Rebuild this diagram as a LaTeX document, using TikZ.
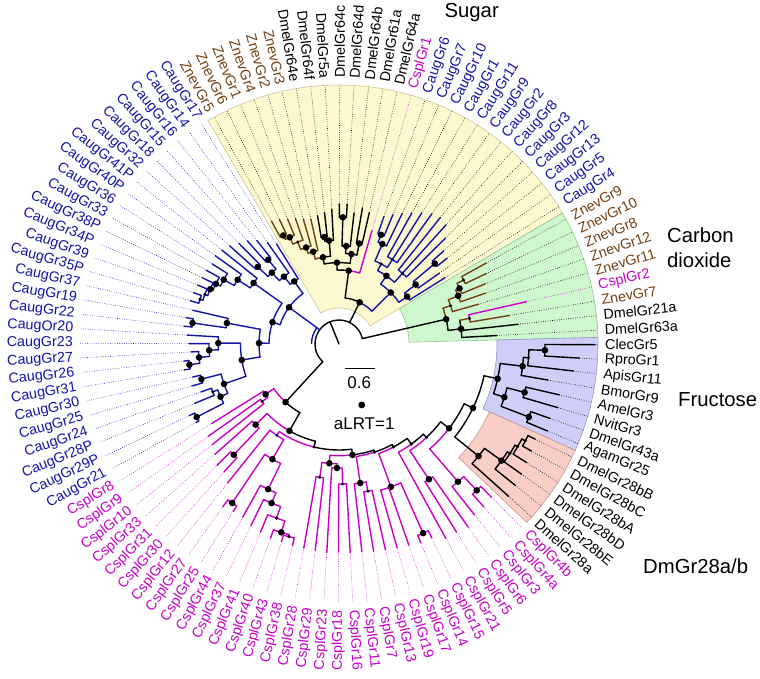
\documentclass[tikz,border=0pt]{standalone}
\usepackage{fontspec}
\setmainfont{Liberation Sans}
\definecolor{cb}{RGB}{20,20,170}
\definecolor{cp}{RGB}{200,0,200}
\definecolor{cz}{RGB}{115,65,20}
\definecolor{fy}{RGB}{252,249,208}
\definecolor{fg}{RGB}{206,247,206}
\definecolor{fb}{RGB}{206,206,248}
\definecolor{fr}{RGB}{248,206,198}
\definecolor{sy}{RGB}{205,195,150}
\definecolor{sg}{RGB}{150,200,150}
\definecolor{sbb}{RGB}{150,150,200}
\definecolor{sr}{RGB}{205,150,140}
\newcommand\angI[1]{(122+3.2143*(#1))}
\newcommand\brE[4]{\draw[br,#1] ({\angI{#2}}:#3pt) -- ({\angI{#2}}:#4pt);}
\newcommand\brA[4]{\draw[br,#1] ({\angI{#2}}:#4pt) arc[start angle={\angI{#2}},end angle={\angI{#3}},radius=#4pt];}
\newcommand\lfL[5]{\draw[br,#1] ({\angI{#3}}:#4pt) -- ({\angI{#3}}:#5pt); \draw[dt,#2] ({\angI{#3}}:#5pt) -- ({\angI{#3}}:259pt);}
\newcommand\dtB[2]{\fill ({\angI{#1}}:#2pt) circle[radius=3.3pt];}
\newcommand\dtS[2]{\fill ({\angI{#1}}:#2pt) circle[radius=1.7pt];}
\newcommand\secS[6]{\filldraw[fill=#1,draw=#2,line width=0.6pt] ({\angI{#3}}:#5pt) -- ({\angI{#3}}:#6pt) arc[start angle={\angI{#3}},end angle={\angI{#4}},radius=#6pt] -- ({\angI{#4}}:#5pt) arc[start angle={\angI{#4}},end angle={\angI{#3}},radius=#5pt] -- cycle;}
\newcommand\lbL[3]{%
  \pgfmathsetmacro\myA{mod(122+3.2143*(#1),360)}%
  \ifdim\myA pt<90pt\relax
    \node[lab,text=#3,rotate=\myA,anchor=west] (t#1) at (\myA:266pt) {#2};%
  \else\ifdim\myA pt>270pt\relax
    \node[lab,text=#3,rotate=\myA,anchor=west] (t#1) at (\myA:266pt) {#2};%
  \else
    \pgfmathsetmacro\myB{\myA-180}%
    \node[lab,text=#3,rotate=\myB,anchor=east] (t#1) at (\myA:266pt) {#2};%
  \fi\fi}
\begin{document}
\begin{tikzpicture}[x=1pt,y=1pt,
  br/.style={line width=1.4pt,line cap=round},
  dt/.style={line width=0.6pt,dash pattern=on 0.6pt off 1.7pt},
  lab/.style={inner sep=0pt,font=\fontsize{14.3}{16}\selectfont},
  cat/.style={inner sep=0pt,font=\fontsize{20.3}{25}\selectfont},
  leg/.style={inner sep=0pt,font=\fontsize{17}{19}\selectfont}]
\useasboundingbox (-339,-334) rectangle (421,344);
% background sectors
\secS{fy}{sy}{83.5}{111.5}{36}{259}
\secS{fg}{sg}{74.5}{83.5}{70}{259}
\secS{fb}{sbb}{66.5}{74.5}{158}{259}
\secS{fr}{sr}{60.5}{66.5}{165}{259}
% root
\brE{black}{108.9}{0}{24}
\brA{black}{78.1}{144.8}{24}
\brA{cb}{118.75}{129.6}{27.5}
\brE{black}{78.1}{24}{110}
\brE{black}{93.85}{24}{46.5}
\brE{cb}{6.75}{24}{62}
\brE{black}{32.8}{24}{79}
% Caug left clade
\brA{cb}{1.1}{12.4}{62} \dtB{6.75}{62}
\brE{cb}{1.1}{62}{77} \brA{cb}{0}{2.25}{77} \dtB{1.1}{77}
\lfL{cb}{cb}{0}{77}{118}
\brE{cb}{2.25}{77}{87} \brA{cb}{1}{3.5}{87} \dtB{2.25}{87}
\lfL{cb}{cb}{1}{87}{124}
\brE{cb}{3.5}{87}{98} \brA{cb}{2.5}{4.5}{98} \dtB{3.5}{98}
\brE{cb}{2.5}{98}{110} \brA{cb}{2}{3}{110} \dtB{2.5}{110}
\lfL{cb}{cb}{2}{110}{132} \lfL{cb}{cb}{3}{110}{138}
\brE{cb}{4.5}{98}{112} \brA{cb}{4}{5}{112} \dtB{4.5}{112}
\lfL{cb}{cb}{4}{112}{142} \lfL{cb}{cb}{5}{112}{147}
\brE{cb}{12.4}{62}{70} \brA{cb}{6.99}{17.85}{70} \dtB{12.4}{70}
\brE{cb}{6.99}{70}{105} \brA{cb}{6}{7.98}{105} \dtB{6.99}{105}
\lfL{cb}{cb}{6}{105}{150}
\brE{cb}{7.98}{105}{120} \brA{cb}{7}{8.97}{120} \dtB{7.98}{120}
\lfL{cb}{cb}{7}{120}{152}
\brE{cb}{8.97}{120}{132} \brA{cb}{8}{9.94}{132} \dtB{8.97}{132}
\lfL{cb}{cb}{8}{132}{150}
\brE{cb}{9.94}{132}{137} \brA{cb}{9}{10.875}{137} \dtB{9.94}{137}
\lfL{cb}{cb}{9}{137}{152}
\brE{cb}{10.875}{137}{140} \brA{cb}{10}{11.75}{140} \dtB{10.875}{140}
\lfL{cb}{cb}{10}{140}{152}
\brE{cb}{11.75}{140}{143} \brA{cb}{11}{12.5}{143} \dtS{11.75}{143}
\lfL{cb}{cb}{11}{143}{153}
\brE{cb}{12.5}{143}{146} \brA{cb}{12}{13}{146} \dtS{12.5}{146}
\lfL{cb}{cb}{12}{146}{154} \lfL{cb}{cb}{13}{146}{155}
\brE{cb}{17.85}{70}{80} \brA{cb}{14.75}{20.95}{80} \dtB{17.85}{80}
\brE{cb}{14.75}{80}{114} \brA{cb}{14}{15.5}{114} \dtB{14.75}{114}
\lfL{cb}{cb}{14}{114}{150}
\brE{cb}{15.5}{114}{148} \brA{cb}{15}{16}{148} \dtB{15.5}{148}
\lfL{cb}{cb}{15}{148}{155} \lfL{cb}{cb}{16}{148}{156}
\brE{cb}{20.95}{80}{98.5} \brA{cb}{17.9}{24}{98.5} \dtB{20.95}{98.5}
\brE{cb}{17.9}{98.5}{120.7} \brA{cb}{17}{18.9}{120.7} \dtB{17.9}{120.7}
\lfL{cb}{cb}{17}{120.7}{152}
\brE{cb}{18.9}{120.7}{130} \brA{cb}{18}{19.75}{130} \dtB{18.9}{130}
\lfL{cb}{cb}{18}{130}{150}
\brE{cb}{19.75}{130}{140.6} \brA{cb}{19}{20.5}{140.6} \dtB{19.75}{140.6}
\lfL{cb}{cb}{19}{140.6}{148}
\brE{cb}{20.5}{140.6}{151} \brA{cb}{20}{21}{151} \dtB{20.5}{151}
\lfL{cb}{cb}{20}{151}{156} \lfL{cb}{cb}{21}{151}{157}
\brE{cb}{24}{98.5}{121.7} \brA{cb}{22.5}{25.5}{121.7} \dtB{24}{121.7}
\brE{cb}{22.5}{121.7}{142} \brA{cb}{22}{23}{142} \dtB{22.5}{142}
\lfL{cb}{cb}{22}{142}{150} \lfL{cb}{cb}{23}{142}{153}
\brE{cb}{25.5}{121.7}{129.7} \brA{cb}{24.5}{26.5}{129.7} \dtB{25.5}{129.7}
\brE{cb}{24.5}{129.7}{135} \brA{cb}{24}{25}{135} \dtS{24.5}{135}
\lfL{cb}{cb}{24}{135}{146} \lfL{cb}{cb}{25}{135}{156}
\brE{cb}{26.5}{129.7}{160} \brA{cb}{26}{27}{160} \dtB{26.5}{160}
\lfL{cb}{cb}{26}{160}{166} \lfL{cb}{cb}{27}{160}{163}
% bottom ladder with Cspl
\brA{cp}{28.75}{32.8}{79} \brA{black}{32.8}{36.8}{79} \dtB{32.8}{79}
\brE{cp}{28.75}{79}{89} \brA{cp}{28}{29.5}{89} \dtB{28.75}{89}
\lfL{cp}{cp}{28}{89}{150}
\brE{cp}{29.5}{89}{96} \brA{cp}{29}{30}{96} \dtS{29.5}{96}
\lfL{cp}{cp}{29}{96}{160} \lfL{cp}{cp}{30}{96}{162}
\brE{black}{36.8}{79}{100} \brA{cp}{31.75}{36.8}{100} \brA{black}{36.8}{41.8}{100} \dtB{36.8}{100}
\brE{cp}{31.75}{100}{116} \brA{cp}{31}{32.5}{116} \dtB{31.75}{116}
\lfL{cp}{cp}{31}{116}{166}
\brE{cp}{32.5}{116}{152.8} \brA{cp}{32}{33}{152.8} \dtB{32.5}{152.8}
\lfL{cp}{cp}{32}{152.8}{172} \lfL{cp}{cp}{33}{152.8}{172}
\brE{black}{41.8}{100}{106} \brA{cp}{35.4}{41.8}{106} \brA{black}{41.8}{48.2}{106} \dtS{41.8}{106}
\brE{cp}{35.4}{106}{110.5} \brA{cp}{34}{36.7}{110.5} \dtS{35.4}{110.5}
\lfL{cp}{cp}{34}{110.5}{178}
\brE{cp}{36.7}{110.5}{133} \brA{cp}{35.5}{37.95}{133} \dtB{36.7}{133}
\brE{cp}{35.5}{133}{191.5} \brA{cp}{35}{36}{191.5} \dtB{35.5}{191.5}
\lfL{cp}{cp}{35}{191.5}{200} \lfL{cp}{cp}{36}{191.5}{198}
\brE{cp}{37.95}{133}{161.6} \brA{cp}{37}{38.9}{161.6} \dtB{37.95}{161.6}
\lfL{cp}{cp}{37}{161.6}{198}
\brE{cp}{38.9}{161.6}{172.8} \brA{cp}{38}{39.9}{172.8} \dtB{38.9}{172.8}
\lfL{cp}{cp}{38}{172.8}{202}
\brE{cp}{39.9}{172.8}{185} \brA{cp}{39}{40.75}{185} \dtS{39.9}{185}
\lfL{cp}{cp}{39}{185}{204}
\brE{cp}{40.75}{185}{197} \brA{cp}{40}{41.5}{197} \dtB{40.75}{197}
\lfL{cp}{cp}{40}{197}{206}
\brE{cp}{41.5}{197}{199} \brA{cp}{41}{42}{199} \dtS{41.5}{199}
\lfL{cp}{cp}{41}{199}{206} \lfL{cp}{cp}{42}{199}{207}
\brE{black}{48.2}{106}{111.7} \brA{cp}{44.6}{48.2}{111.7} \brA{black}{48.2}{51.7}{111.7} \dtB{48.2}{111.7}
\brE{cp}{44.6}{111.7}{119.7} \brA{cp}{43.5}{45.75}{119.7} \dtB{44.6}{119.7}
\brE{cp}{43.5}{119.7}{134.7} \brA{cp}{43}{44}{134.7} \dtS{43.5}{134.7}
\lfL{cp}{cp}{43}{134.7}{207} \lfL{cp}{cp}{44}{134.7}{208}
\brE{cp}{45.75}{119.7}{124} \brA{cp}{45}{46.5}{124} \dtB{45.75}{124}
\lfL{cp}{cp}{45}{124}{209}
\brE{cp}{46.5}{124}{140} \brA{cp}{46}{47}{140} \dtS{46.5}{140}
\lfL{cp}{cp}{46}{140}{208} \lfL{cp}{cp}{47}{140}{209}
\brE{black}{51.7}{111.7}{113.8} \brA{cp}{48.75}{51.7}{113.8} \brA{black}{51.7}{54.7}{113.8} \dtS{51.7}{113.8}
\brE{cp}{48.75}{113.8}{140.6} \brA{cp}{48}{49.5}{140.6} \dtB{48.75}{140.6}
\lfL{cp}{cp}{48}{140.6}{209}
\brE{cp}{49.5}{140.6}{150} \brA{cp}{49}{50}{150} \dtS{49.5}{150}
\lfL{cp}{cp}{49}{150}{210} \lfL{cp}{cp}{50}{150}{211}
\brE{black}{54.7}{113.8}{116.5} \brA{cp}{52.25}{54.7}{116.5} \brA{black}{54.7}{57.2}{116.5} \dtS{54.7}{116.5}
\brE{cp}{52.25}{116.5}{152} \brA{cp}{51}{53.5}{152} \dtB{52.25}{152}
\lfL{cp}{cp}{51}{152}{212} \lfL{cp}{cp}{52}{152}{213}
\brE{cp}{53.5}{152}{207} \brA{cp}{53}{54}{207} \dtB{53.5}{207}
\lfL{cp}{cp}{53}{207}{215} \lfL{cp}{cp}{54}{207}{215}
\brE{black}{57.2}{116.5}{123.5} \brA{cp}{55}{57.2}{123.5} \brA{black}{57.2}{59.45}{123.5} \dtS{57.2}{123.5}
\lfL{cp}{cp}{55}{123.5}{222}
\brE{black}{59.45}{123.5}{128} \brA{cp}{56.5}{59.45}{128} \brA{black}{59.45}{62.4}{128} \dtS{59.45}{128}
\brE{cp}{56.5}{128}{162.4} \brA{cp}{56}{57}{162.4} \dtB{56.5}{162.4}
\lfL{cp}{cp}{56}{162.4}{222} \lfL{cp}{cp}{57}{162.4}{224}
\brE{black}{62.4}{128}{138.7} \brA{cp}{58.75}{62.4}{138.7} \brA{black}{62.4}{66.1}{138.7} \dtB{62.4}{138.7}
\brE{cp}{58.75}{138.7}{182} \brA{cp}{58}{59.5}{182} \dtB{58.75}{182}
\lfL{cp}{cp}{58}{182}{218}
\brE{cp}{59.5}{182}{201} \brA{cp}{59}{60}{201} \dtB{59.5}{201}
\lfL{cp}{cp}{59}{201}{218} \lfL{cp}{cp}{60}{201}{216}
\brE{black}{66.1}{138.7}{148.5} \brA{black}{61.98}{70.2}{148.5} \dtB{66.1}{148.5}
% DmGr28 clade
\brE{black}{61.98}{148.5}{179} \brA{black}{61}{62.95}{179} \dtB{61.98}{179}
\lfL{black}{black}{61}{179}{228}
\brE{black}{62.95}{179}{200} \brA{black}{62}{63.9}{200} \dtB{62.95}{200}
\lfL{black}{black}{62}{200}{226}
\brE{black}{63.9}{200}{203} \brA{black}{63}{64.75}{203} \dtS{63.9}{203}
\lfL{black}{black}{63}{203}{224}
\brE{black}{64.75}{203}{206} \brA{black}{64}{65.5}{206} \dtS{64.75}{206}
\lfL{black}{black}{64}{206}{222}
\brE{black}{65.5}{206}{210} \brA{black}{65}{66}{210} \dtS{65.5}{210}
\lfL{black}{black}{65}{210}{220} \lfL{black}{black}{66}{210}{218}
% Fructose clade
\brE{black}{70.2}{148.5}{162.4} \brA{black}{68.5}{71.9}{162.4} \dtB{70.2}{162.4}
\brE{black}{68.5}{162.4}{173.7} \brA{black}{67.5}{69.5}{173.7} \dtB{68.5}{173.7}
\brE{black}{67.5}{173.7}{203.4} \brA{black}{67}{68}{203.4} \dtB{67.5}{203.4}
\lfL{black}{black}{67}{203.4}{226} \lfL{black}{black}{68}{203.4}{224}
\brE{black}{69.5}{173.7}{191.8} \brA{black}{69}{70}{191.8} \dtB{69.5}{191.8}
\lfL{black}{black}{69}{191.8}{228} \lfL{black}{black}{70}{191.8}{226}
\brE{black}{71.9}{162.4}{184.9} \brA{black}{71}{72.75}{184.9} \dtB{71.9}{184.9}
\lfL{black}{black}{71}{184.9}{212}
\brE{black}{72.75}{184.9}{190} \brA{black}{72}{73.5}{190} \dtS{72.75}{190}
\lfL{black}{black}{72}{190}{236}
\brE{black}{73.5}{190}{206} \brA{black}{73}{74}{206} \dtB{73.5}{206}
\lfL{black}{black}{73}{206}{241} \lfL{black}{black}{74}{206}{256}
% CO2 clade
\brA{black}{76.25}{78.1}{110} \brA{cz}{78.1}{79.95}{110} \dtB{78.1}{110}
\brE{black}{76.25}{110}{123} \brA{black}{75}{77.5}{123} \dtB{76.25}{123}
\lfL{black}{black}{75}{123}{158} \lfL{black}{black}{76}{123}{180}
\brE{cz}{77.5}{123}{133} \brA{cz}{77}{77.5}{133} \brA{cp}{77.5}{78}{133} \dtS{77.5}{133}
\lfL{cz}{black}{77}{133}{173} \lfL{cp}{cp}{78}{133}{192}
\brE{cz}{79.95}{110}{118} \brA{cz}{79}{80.9}{118} \dtS{79.95}{118}
\lfL{cz}{black}{79}{118}{145}
\brE{cz}{80.9}{118}{128.6} \brA{cz}{80}{81.75}{128.6} \dtB{80.9}{128.6}
\lfL{cz}{black}{80}{128.6}{155}
\brE{cz}{81.75}{128.6}{132.7} \brA{cz}{81}{82.5}{132.7} \dtB{81.75}{132.7}
\lfL{cz}{black}{81}{132.7}{158}
\brE{cz}{82.5}{132.7}{140} \brA{cz}{82}{83}{140} \dtS{82.5}{140}
\lfL{cz}{black}{82}{140}{163} \lfL{cz}{black}{83}{140}{168}
% Sugar clade
\brA{cb}{88}{93.85}{46.5} \brA{black}{93.85}{99.7}{46.5} \dtB{93.85}{46.5}
\brE{cb}{88}{46.5}{73} \brA{cb}{84.9}{91.2}{73} \dtB{88}{73}
\brE{cb}{84.9}{73}{83} \brA{cb}{84}{85.8}{83} \dtB{84.9}{83}
\lfL{cb}{black}{84}{83}{125}
\brE{cb}{85.8}{83}{97} \brA{cb}{85}{86.5}{97} \dtB{85.8}{97}
\lfL{cb}{black}{85}{97}{123}
\brE{cb}{86.5}{97}{125} \brA{cb}{86}{87}{125} \dtB{86.5}{125}
\lfL{cb}{black}{86}{125}{138} \lfL{cb}{black}{87}{125}{140}
\brE{cb}{91.2}{73}{83} \brA{cb}{89}{93.4}{83} \dtB{91.2}{83}
\brE{cb}{89}{83}{95} \brA{cb}{88}{90}{95} \dtS{89}{95}
\lfL{cb}{black}{88}{95}{150} \lfL{cb}{black}{89}{95}{160} \lfL{cb}{black}{90}{95}{162}
\brE{cb}{93.4}{83}{90.5} \brA{cb}{92}{94.75}{90.5} \dtS{93.4}{90.5}
\brE{cb}{92}{90.5}{100} \brA{cb}{91}{93}{100} \dtS{92}{100}
\lfL{cb}{black}{91}{100}{160} \lfL{cb}{black}{92}{100}{155} \lfL{cb}{black}{93}{100}{150}
\brE{cb}{94.75}{90.5}{109} \brA{cb}{94}{95.5}{109} \dtB{94.75}{109}
\lfL{cb}{black}{94}{109}{145}
\brE{cb}{95.5}{109}{117} \brA{cb}{95}{96}{117} \dtB{95.5}{117}
\lfL{cb}{black}{95}{117}{140} \lfL{cb}{black}{96}{117}{135}
\brE{black}{99.7}{46.5}{74} \brA{cp}{97}{99.7}{74} \brA{black}{99.7}{102.5}{74} \dtB{99.7}{74}
\lfL{cp}{cp}{97}{74}{118}
\brE{black}{102.5}{74}{81.4} \brA{black}{99.6}{105.3}{81.4} \dtB{102.5}{81.4}
\brE{black}{99.6}{81.4}{90.8} \brA{black}{98.5}{100.75}{90.8} \dtB{99.6}{90.8}
\brE{black}{98.5}{90.8}{102.5} \brA{black}{98}{99}{102.5} \dtB{98.5}{102.5}
\lfL{black}{black}{98}{102.5}{135} \lfL{black}{black}{99}{102.5}{138}
\brE{black}{100.75}{90.8}{98.2} \brA{black}{100}{101.5}{98.2} \dtB{100.75}{98.2}
\lfL{black}{black}{100}{98.2}{132}
\brE{black}{101.5}{98.2}{126.7} \brA{black}{101}{102}{126.7} \dtB{101.5}{126.7}
\lfL{black}{black}{101}{126.7}{140} \lfL{black}{black}{102}{126.7}{140}
\brE{black}{105.3}{81.4}{88.2} \brA{black}{103.75}{105.3}{88.2} \brA{cz}{105.3}{106.9}{88.2} \dtB{105.3}{88.2}
\brE{black}{103.75}{88.2}{103.9} \brA{black}{103}{104.5}{103.9} \dtB{103.75}{103.9}
\lfL{black}{black}{103}{103.9}{135}
\brE{black}{104.5}{103.9}{108} \brA{black}{104}{105}{108} \dtB{104.5}{108}
\lfL{black}{black}{104}{108}{132} \lfL{black}{black}{105}{108}{130}
\brE{cz}{106.9}{88.2}{95.8} \brA{cz}{106}{107.9}{95.8} \dtB{106.9}{95.8}
\lfL{cz}{black}{106}{95.8}{128}
\brE{cz}{107.9}{95.8}{102} \brA{cz}{107}{108.9}{102} \dtB{107.9}{102}
\lfL{cz}{black}{107}{102}{130}
\brE{cz}{108.9}{102}{110} \brA{cz}{108}{109.75}{110} \dtS{108.9}{110}
\lfL{cz}{black}{108}{110}{133}
\brE{cz}{109.75}{110}{117.6} \brA{cz}{109}{110.5}{117.6} \dtB{109.75}{117.6}
\lfL{cz}{black}{109}{117.6}{135}
\brE{cz}{110.5}{117.6}{122} \brA{cz}{110}{111}{122} \dtB{110.5}{122}
\lfL{cz}{black}{110}{122}{138} \lfL{cz}{black}{111}{122}{140}
% leaf labels
\lbL{0}{CaugGr17}{cb}\lbL{1}{CaugGr14}{cb}\lbL{2}{CaugGr16}{cb}\lbL{3}{CaugGr15}{cb}
\lbL{4}{CaugGr18}{cb}\lbL{5}{CaugGr32}{cb}\lbL{6}{CaugGr41P}{cb}\lbL{7}{CaugGr40P}{cb}
\lbL{8}{CaugGr36}{cb}\lbL{9}{CaugGr33}{cb}\lbL{10}{CaugGr38P}{cb}\lbL{11}{CaugGr34P}{cb}
\lbL{12}{CaugGr39}{cb}\lbL{13}{CaugGr35P}{cb}\lbL{14}{CaugGr37}{cb}\lbL{15}{CaugGr19}{cb}
\lbL{16}{CaugGr22}{cb}\lbL{17}{CaugOr20}{cb}\lbL{18}{CaugGr23}{cb}\lbL{19}{CaugGr27}{cb}
\lbL{20}{CaugGr26}{cb}\lbL{21}{CaugGr31}{cb}\lbL{22}{CaugGr30}{cb}\lbL{23}{CaugGr25}{cb}
\lbL{24}{CaugGr24}{cb}\lbL{25}{CaugGr28P}{cb}\lbL{26}{CaugGr29P}{cb}\lbL{27}{CaugGr21}{cb}
\lbL{28}{CsplGr8}{cp}\lbL{29}{CsplGr9}{cp}\lbL{30}{CsplGr10}{cp}\lbL{31}{CsplGr33}{cp}
\lbL{32}{CsplGr31}{cp}\lbL{33}{CsplGr30}{cp}\lbL{34}{CsplGr12}{cp}\lbL{35}{CsplGr27}{cp}
\lbL{36}{CsplGr25}{cp}\lbL{37}{CsplGr44}{cp}\lbL{38}{CsplGr37}{cp}\lbL{39}{CsplGr41}{cp}
\lbL{40}{CsplGr40}{cp}\lbL{41}{CsplGr43}{cp}\lbL{42}{CsplGr38}{cp}\lbL{43}{CsplGr28}{cp}
\lbL{44}{CsplGr29}{cp}\lbL{45}{CsplGr23}{cp}\lbL{46}{CsplGr18}{cp}\lbL{47}{CsplGr16}{cp}
\lbL{48}{CsplGr11}{cp}\lbL{49}{CsplGr7}{cp}\lbL{50}{CsplGr13}{cp}\lbL{51}{CsplGr19}{cp}
\lbL{52}{CsplGr17}{cp}\lbL{53}{CsplGr14}{cp}\lbL{54}{CsplGr15}{cp}\lbL{55}{CsplGr21}{cp}
\lbL{56}{CsplGr5}{cp}\lbL{57}{CsplGr6}{cp}\lbL{58}{CsplGr3}{cp}\lbL{59}{CsplGr4a}{cp}
\lbL{60}{CsplGr4b}{cp}
\lbL{61}{DmelGr28a}{black}\lbL{62}{DmelGr28bE}{black}\lbL{63}{DmelGr28bD}{black}
\lbL{64}{DmelGr28bA}{black}\lbL{65}{DmelGr28bC}{black}\lbL{66}{DmelGr28bB}{black}
\lbL{67}{AgamGr25}{black}\lbL{68}{DmelGr43a}{black}\lbL{69}{NvitGr3}{black}
\lbL{70}{AmelGr3}{black}\lbL{71}{BmorGr9}{black}\lbL{72}{ApisGr11}{black}
\lbL{73}{RproGr1}{black}\lbL{74}{ClecGr5}{black}\lbL{75}{DmelGr63a}{black}
\lbL{76}{DmelGr21a}{black}\lbL{77}{ZnevGr7}{cz}\lbL{78}{CsplGr2}{cp}
\lbL{79}{ZnevGr11}{cz}\lbL{80}{ZnevGr12}{cz}\lbL{81}{ZnevGr8}{cz}\lbL{82}{ZnevGr10}{cz}
\lbL{83}{ZnevGr9}{cz}
\lbL{84}{CaugGr4}{cb}\lbL{85}{CaugGr5}{cb}\lbL{86}{CaugGr13}{cb}\lbL{87}{CaugGr12}{cb}
\lbL{88}{CaugGr3}{cb}\lbL{89}{CaugGr8}{cb}\lbL{90}{CaugGr2}{cb}\lbL{91}{CaugGr9}{cb}
\lbL{92}{CaugGr11}{cb}\lbL{93}{CaugGr1}{cb}\lbL{94}{CaugGr10}{cb}\lbL{95}{CaugGr7}{cb}
\lbL{96}{CaugGr6}{cb}\lbL{97}{CsplGr1}{cp}
\lbL{98}{DmelGr64a}{black}\lbL{99}{DmelGr61a}{black}\lbL{100}{DmelGr64b}{black}
\lbL{101}{DmelGr64d}{black}\lbL{102}{DmelGr64c}{black}\lbL{103}{DmelGr5a}{black}
\lbL{104}{DmelGr64f}{black}\lbL{105}{DmelGr64e}{black}
\lbL{106}{ZnevGr3}{cz}\lbL{107}{ZnevGr2}{cz}\lbL{108}{ZnevGr4}{cz}\lbL{109}{ZnevGr1}{cz}
\lbL{110}{ZnevGr6}{cz}\lbL{111}{ZnevGr5}{cz}
% category labels
\node[cat] (sugar) at (132.7,331.8) {Sugar};
\node[cat,align=left,anchor=west] (co2) at (328,96.5) {Carbon\\dioxide};
\node[cat,anchor=west] (fru) at (339,-56) {Fructose};
\node[cat,anchor=west] (dm28) at (304,-222.5) {DmGr28a/b};
% scale and legend
\coordinate (sb1) at (6,-24.3);
\coordinate (sb2) at (36,-24.3);
\draw[line width=1pt] (sb1) -- (sb2);
\node[leg] (sbl) at (20.2,-38.3) {0.6};
\fill (22.7,-61) circle[radius=3.4pt];
\node[leg] (alrt) at (25.2,-79.3) {aLRT=1};
\end{tikzpicture}
\end{document}
